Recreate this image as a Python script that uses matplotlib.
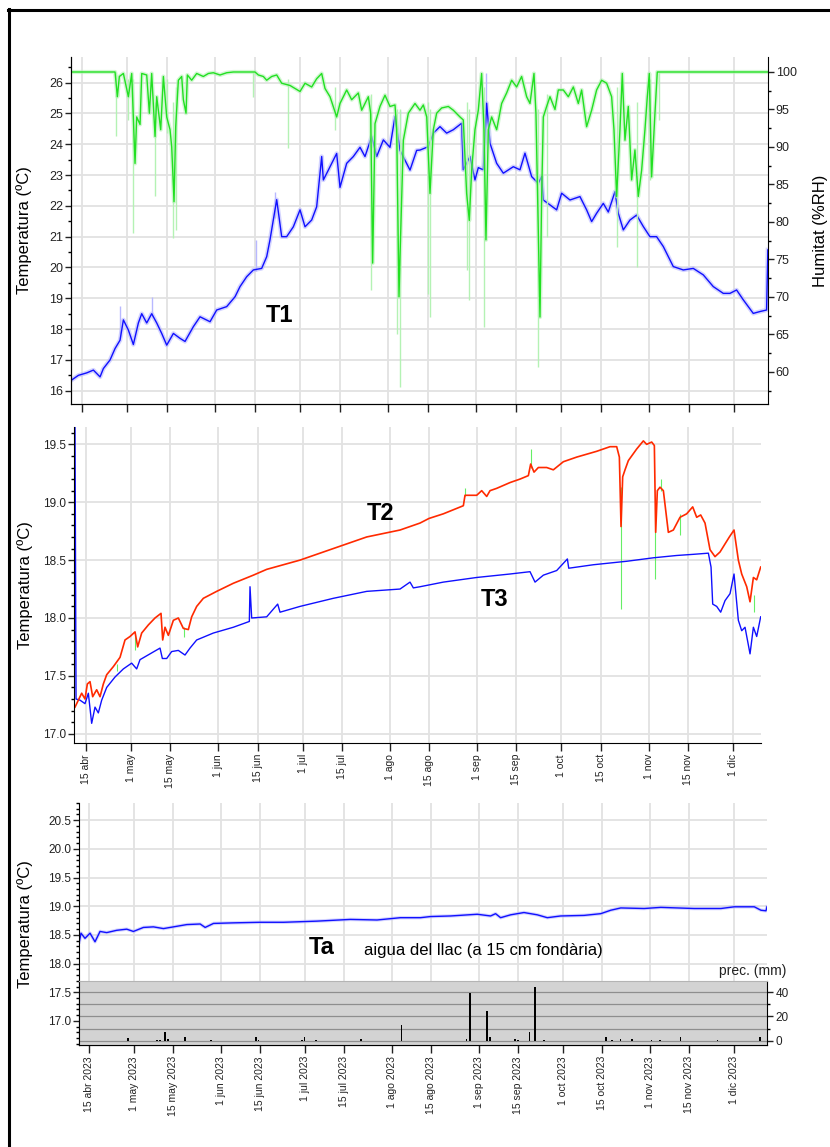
import numpy as np
import pandas as pd
import matplotlib
matplotlib.use('Agg')
import matplotlib.pyplot as plt
from matplotlib.lines import Line2D
from matplotlib.ticker import MultipleLocator, FormatStrFormatter

plt.rcParams['font.family'] = ['Liberation Sans', 'DejaVu Sans']

# --- data (x = days after 15 abr 2023) ---
t1_days = [-3.64, -1.29, 1.65, 4.0, 6.35, 7.52, 9.88, 11.64, 13.4, 14.58, 16.34, 18.1, 19.87,
           21.05, 22.81, 24.57, 26.34, 28.1, 29.87, 32.22, 34.57, 36.33, 39.27, 41.62, 45.15,
           47.5, 51.03, 53.97, 55.73, 58.08, 60.43, 63.37, 65.14, 66.31, 68.67, 70.43, 72.19,
           74.54, 76.9, 78.66, 81.01, 82.77, 84.54, 85.13, 86.89, 89.83, 91.0, 93.36, 95.71,
           98.06, 99.82, 102.18, 103.94, 106.29, 108.64, 110.41, 112.17, 115.7, 118.05,
           119.22, 122.16, 123.93, 126.28, 128.63, 130.98, 133.92, 134.5, 136.86, 138.62,
           139.8, 141.56, 142.74, 143.92, 146.27, 148.62, 152.15, 154.5, 156.26, 158.61,
           160.97, 162.14, 162.73, 167.43, 169.2, 172.13, 175.66, 178.01, 179.78, 181.54,
           183.89, 185.66, 188.01, 189.18, 190.95, 193.3, 195.65, 198.0, 200.35, 202.7,
           205.06, 208.58, 212.11, 215.64, 219.17, 222.69, 226.22, 228.57, 230.92, 233.28,
           236.8, 239.15, 241.5, 241.95]
t1_vals = [16.35, 16.5, 16.58, 16.67, 16.45, 16.72, 17.0, 17.37, 17.64, 18.3, 17.97, 17.5, 18.2,
           18.5, 18.2, 18.5, 18.2, 17.86, 17.48, 17.86, 17.7, 17.6, 18.08, 18.4, 18.24,
           18.62, 18.73, 19.05, 19.38, 19.7, 19.92, 19.97, 20.35, 20.9, 22.2, 21.0, 21.0,
           21.32, 21.87, 21.32, 21.54, 21.97, 23.6, 22.84, 23.16, 23.7, 22.6, 23.38, 23.6,
           23.9, 23.6, 24.25, 23.6, 24.14, 23.9, 24.9, 23.8, 23.16, 23.8,
           23.81, 23.92, 24.36, 24.57, 24.36, 24.47, 24.68, 23.17, 23.6, 22.84,
           23.24, 23.17, 25.33, 24.03, 23.38, 23.06, 23.27, 23.17, 23.71, 22.95,
           22.73, 22.95, 22.19, 21.87, 22.41, 22.19, 22.3, 21.87, 21.49, 21.76,
           22.08, 21.8, 22.46, 21.76, 21.22, 21.54, 21.7, 21.33, 21.0, 21.0,
           20.68, 20.03, 19.92, 19.97, 19.76, 19.38, 19.16, 19.16, 19.27, 18.95,
           18.51, 18.57, 18.62, 20.57]
t1_spike_days = [13.5, 24.6, 61.5, 68.0, 112.0, 142.5]
t1_spike_lo = [17.7, 18.4, 19.9, 21.6, 23.9, 24.0]
t1_spike_hi = [18.75, 19.05, 20.9, 22.45, 25.1, 26.3]

rh_days = [-3.64, 11.64, 12.46, 13.16, 14.58, 16.34, 17.52, 18.69, 19.28, 20.46, 21.05, 22.81,
           23.75, 24.57, 25.75, 26.34, 27.75, 28.69, 29.87, 31.04, 31.63, 32.45, 33.04, 33.98,
           35.15, 35.74, 36.68, 37.15, 38.68, 40.44, 42.79, 44.56, 46.32, 48.67, 51.03, 53.38,
           61.02, 62.2, 63.96, 65.14, 66.9, 68.67, 70.43, 73.37, 76.9, 78.66, 81.01, 82.77,
           84.54, 85.71, 87.48, 89.83, 91.0, 93.36, 95.12, 97.47, 98.65, 99.82, 101.0, 101.82,
           102.53, 103.35, 105.11, 106.88, 108.64, 110.41, 111.0, 111.82, 112.17, 113.35,
           115.11, 117.46, 119.22, 120.4, 121.6, 122.75, 123.93, 125.1, 126.87, 129.22,
           130.98, 133.33, 134.5, 135.68, 136.62, 137.45, 138.62, 139.8, 140.97, 141.8, 142.5,
           143.33, 144.5, 146.27, 148.03, 149.79, 151.56, 153.32, 155.08, 156.85, 158.03,
           159.44, 160.14, 160.97, 161.56, 162.14, 162.73, 163.91, 165.08, 166.85, 168.02,
           169.78, 171.55, 173.32, 175.08, 176.25, 178.01, 179.78, 181.54, 183.31, 185.07,
           186.83, 187.66, 188.6, 189.77, 190.6, 191.54, 192.71, 193.89, 195.06, 196.24,
           197.42, 198.59, 199.42, 200.12, 200.94, 202.12, 202.94, 242.0]
rh_vals = [100, 100, 96.7, 99.4, 99.8, 96.7, 99.8, 87.8, 94.0, 93.0, 99.8, 99.6,
           94.5, 99.8, 91.4, 96.7, 92.3, 99.4, 94.0, 92.3, 90.0, 82.7, 92.7, 98.9,
           99.4, 96.3, 94.5, 99.6, 98.9, 99.8, 99.4, 99.8, 99.9, 99.6, 99.9, 100,
           100, 99.6, 99.4, 98.9, 99.4, 99.6, 98.5, 98.2, 97.4, 98.5, 98.0, 99.1,
           99.8, 97.8, 96.7, 94.0, 95.8, 97.6, 96.3, 97.2, 94.9, 95.8, 96.7, 94.5,
           74.5, 93.1, 95.4, 96.9, 95.4, 95.6, 92.3, 70.0, 75.3, 90.9,
           94.5, 95.8, 94.9, 95.6, 94.0, 83.8, 92.3, 94.5, 95.2, 95.4,
           94.9, 94.0, 93.6, 83.8, 80.2, 86.9, 92.3, 94.9, 99.8, 92.3, 77.6,
           92.3, 94.0, 92.3, 95.8, 97.2, 98.9, 98.0, 99.4, 96.7, 95.8,
           99.8, 94.4, 78.9, 67.3, 83.4, 94.0, 95.4, 96.7, 95.0, 97.6,
           97.6, 96.7, 98.0, 95.8, 97.6, 92.7, 94.9, 97.6, 98.9, 98.5,
           96.7, 92.3, 83.4, 92.3, 99.8, 90.9, 95.4, 85.6, 89.6, 83.4,
           86.9, 92.3, 96.7, 99.8, 86.0, 94.5, 100, 100]
rh_spike_days = [12.1, 16.3, 18.1, 25.75, 29.9, 32.2, 33.2, 60.4, 72.8, 89.2, 101.8, 111.0,
                 112.2, 122.2, 122.8, 135.7, 136.6, 141.8, 161.0, 164.1, 188.6, 195.9, 200.4,
                 203.6]
rh_spike_hi = [100, 99, 99, 96, 99, 96, 98, 100, 99, 98, 97, 95,
               95, 96, 95, 96, 95, 98, 95, 97, 98, 96, 99, 100]
rh_spike_lo = [91.4, 93.6, 78.5, 83.4, 91.8, 77.8, 78.9, 96.7, 89.8, 92.3, 70.9, 65.1,
               58.0, 70.4, 67.3, 73.6, 69.6, 66.0, 60.7, 78.0, 76.7, 74.0, 85.6,
               93.6]

t2_days = [-3.91, -2.73, -1.54, -0.36, 0.47, 1.42, 2.37, 3.79, 4.98, 6.16, 7.35, 9.72, 12.09,
           13.86, 15.64, 17.42, 18.37, 19.79, 22.16, 24.53, 26.66, 27.26, 28.08, 29.27, 31.05,
           32.82, 34.6, 36.38, 37.56, 39.34, 41.71, 46.45, 52.37, 59.48, 64.22, 76.07, 87.92,
           99.78, 111.63, 118.73, 121.93, 127.03, 134.14, 134.73, 138.88, 140.66, 142.44,
           143.62, 145.99, 150.73, 154.28, 157.25, 158.07, 159.26, 160.8, 163.76, 166.13,
           169.69, 174.43, 181.54, 186.28, 188.65, 189.6, 190.19, 190.78, 191.61, 192.8,
           195.76, 198.13, 199.31, 201.09, 202.04, 202.51, 203.1, 204.05, 205.24, 207.01,
           208.79, 211.16, 213.53, 215.67, 217.09, 218.51, 220.05, 221.83, 223.6, 225.38,
           227.16, 228.7, 230.36, 231.9, 233.09, 234.87, 236.05, 237.24, 238.42, 239.84]
t2_vals = [17.23, 17.29, 17.35, 17.3, 17.43, 17.45, 17.32, 17.38, 17.32, 17.43, 17.51, 17.58, 17.66,
           17.81, 17.84, 17.88, 17.75, 17.87, 17.94, 18.0, 18.04, 17.81, 17.92, 17.85, 17.98,
           18.0, 17.91, 17.9, 18.01, 18.1, 18.17, 18.23, 18.3, 18.37, 18.42, 18.5, 18.6,
           18.7, 18.76, 18.82, 18.86, 18.9, 18.97, 19.06, 19.06, 19.1, 19.05,
           19.1, 19.12, 19.17, 19.2, 19.23, 19.33, 19.26, 19.3, 19.3, 19.28,
           19.35, 19.39, 19.44, 19.48, 19.48, 19.39, 18.79, 19.22, 19.28, 19.36,
           19.46, 19.53, 19.5, 19.52, 19.49, 18.74, 19.1, 19.13, 19.1, 18.74,
           18.76, 18.87, 18.9, 18.96, 18.87, 18.89, 18.82, 18.59, 18.53, 18.57,
           18.64, 18.7, 18.76, 18.5, 18.38, 18.27, 18.14, 18.35, 18.33, 18.44]

t3_days = [-3.91, -3.55, -2.13, -0.36, 0.83, 2.01, 3.2, 4.38, 5.57, 7.35, 10.31, 13.27, 16.23,
           18.01, 19.2, 22.75, 26.31, 27.14, 28.68, 30.45, 32.82, 35.19, 36.97, 39.34, 45.27,
           52.37, 58.06, 58.3, 58.89, 64.22, 68.14, 68.97, 76.07, 87.92, 99.78, 111.63, 115.18,
           116.36, 118.73, 127.03, 138.88, 150.73, 157.84, 159.62, 162.58, 167.32, 171.12,
           171.6, 180.36, 192.21, 201.69, 209.98, 215.91, 221.24, 222.19, 222.78, 224.2,
           225.62, 227.16, 228.94, 230.36, 231.9, 233.09, 234.27, 236.05, 237.24, 238.42,
           239.84]
t3_vals = [19.65, 17.3, 17.29, 17.26, 17.35, 17.09, 17.23, 17.18, 17.29, 17.4, 17.49, 17.56, 17.61,
           17.56, 17.64, 17.69, 17.74, 17.65, 17.65, 17.71, 17.72, 17.68, 17.74, 17.81, 17.87,
           17.92, 17.97, 18.27, 18.0, 18.01, 18.12, 18.05, 18.1, 18.17, 18.23, 18.25, 18.31,
           18.26, 18.27, 18.31, 18.35, 18.38, 18.4, 18.31, 18.37, 18.41, 18.51,
           18.43, 18.46, 18.49, 18.52, 18.54, 18.55, 18.56, 18.44, 18.12, 18.1,
           18.05, 18.15, 18.21, 18.38, 17.98, 17.89, 17.92, 17.69, 17.92, 17.84,
           18.01]

mid_spike_days = [11.0, 17.4, 34.8, 134.7, 158.07, 190.1, 202.4, 204.3, 211.0, 237.3]
mid_spike_hi = [17.6, 17.86, 17.92, 19.12, 19.46, 19.13, 18.96, 19.2, 18.9, 18.2]
mid_spike_lo = [17.54, 17.72, 17.84, 19.05, 19.3, 18.08, 18.34, 19.1, 18.72, 18.05]

ta_days = [-3.45, -2.86, -1.43, 0.36, 2.14, 3.93, 6.31, 9.88, 13.45, 15.83, 19.4, 22.98, 26.55,
           30.12, 34.88, 39.64, 41.43, 44.4, 51.55, 61.07, 69.4, 81.31, 93.21, 102.74, 111.07,
           118.21, 121.79, 128.93, 138.45, 143.21, 145.0, 146.79, 150.36, 155.12, 159.88,
           163.45, 168.21, 176.55, 182.5, 186.07, 189.64, 197.98, 203.93, 215.83, 225.36,
           230.12, 237.26, 239.64, 241.43, 241.8]
ta_vals = [18.38, 18.53, 18.44, 18.53, 18.38, 18.56, 18.54, 18.58, 18.6, 18.56, 18.63, 18.64, 18.61,
           18.64, 18.68, 18.69, 18.63, 18.7, 18.71, 18.72, 18.72, 18.74, 18.77, 18.76, 18.8,
           18.8, 18.82, 18.83, 18.86, 18.83, 18.87, 18.8, 18.85, 18.89, 18.85,
           18.8, 18.83, 18.84, 18.87, 18.93, 18.97, 18.96, 18.98, 18.96, 18.96,
           18.99, 18.99, 18.93, 18.92, 18.99]

prec_days = [14.0, 24.3, 25.2, 27.0, 28.1, 34.3, 38.5, 43.5, 53.7, 59.5, 60.5, 76.0, 76.8, 81.0,
             97.1, 111.4, 134.6, 135.8, 141.9, 142.9, 151.9, 153.0, 157.1, 159.0, 162.3,
             184.5, 186.5, 189.5, 193.6, 200.6, 203.7, 211.0, 224.2, 239.3]
prec_mm = [2.5, 1, 1, 7, 2, 3.5, 0.3, 0.5, 0.3, 3, 1, 1, 3.5, 0.5,
           1.5, 13, 1.5, 39, 24.5, 3, 1.5, 1, 7, 44, 0.5,
           3.5, 1, 1.5, 2, 0.5, 1, 3, 1, 3]

tick_dates = ['2023-04-15', '2023-05-01', '2023-05-15', '2023-06-01', '2023-06-15', '2023-07-01',
              '2023-07-15', '2023-08-01', '2023-08-15', '2023-09-01', '2023-09-15', '2023-10-01',
              '2023-10-15', '2023-11-01', '2023-11-15', '2023-12-01']
tick_labels = ['15 abr', '1 may', '15 may', '1 jun', '15 jun', '1 jul', '15 jul', '1 ago',
               '15 ago', '1 sep', '15 sep', '1 oct', '15 oct', '1 nov', '15 nov', '1 dic']

base = pd.Timestamp('2023-04-15')


def to_dates(days):
    return base + pd.to_timedelta(np.asarray(days, dtype=float), unit='D')


W, H = 830, 1147
fig = plt.figure(figsize=(W / 100, H / 100), dpi=100)
fig.set_facecolor('white')


def axes_px(l, t, r, b):
    return fig.add_axes([l / W, 1 - b / H, (r - l) / W, (b - t) / H])


grid_kw = dict(color='#e2e2e2', lw=1.3)
blue = '#1010ff'
green = '#22e022'
lgreen = '#b4f2b4'
ticks = pd.to_datetime(tick_dates)


def style_axes(ax, left_extra=True):
    ax.set_axisbelow(True)
    ax.grid(True, which='major', **grid_kw)
    ax.spines['top'].set_visible(False)
    ax.spines['right'].set_visible(False)
    ax.set_xticks(ticks)
    ax.tick_params(axis='x', direction='out', length=6, width=1, labelsize=7.5,
                   labelrotation=90, pad=2, colors='#222222')
    ax.tick_params(axis='y', which='major', direction='out', length=4.5, width=1, pad=1,
                   colors='#222222')
    ax.tick_params(axis='y', which='minor', direction='out', length=2.5, width=1)


# ---------- top panel: T1 + humidity ----------
ax1 = axes_px(71, 57, 768, 404)
style_axes(ax1)
ax1.set_xticklabels([])
ax1.set_xlim(to_dates([-3.9, 242.0]))
ax1.set_ylim(15.57, 26.83)
ax1.yaxis.set_major_locator(MultipleLocator(1))
ax1.yaxis.set_minor_locator(MultipleLocator(0.5))
ax1.tick_params(axis='y', labelsize=9)
ax1.plot(to_dates(t1_days), t1_vals, color='#b8b8ff', lw=3.2, alpha=0.6)
ax1.vlines(to_dates(t1_spike_days), t1_spike_lo, t1_spike_hi, color='#b8b8ff', lw=1)
ax1.plot(to_dates(t1_days), t1_vals, color=blue, lw=1)
ax1.set_ylabel('Temperatura (ºC)', fontsize=12)
ax1.yaxis.set_label_coords(-0.056, 0.5)

ax1r = ax1.twinx()
ax1r.set_ylim(55.7, 102)
ax1r.yaxis.set_major_locator(MultipleLocator(5))
ax1r.yaxis.set_minor_locator(MultipleLocator(2.5))
ax1r.set_yticks([60, 65, 70, 75, 80, 85, 90, 95, 100])
ax1r.spines['top'].set_visible(False)
ax1r.tick_params(axis='y', which='major', direction='out', length=4.5, width=1, pad=1,
                 labelsize=9, colors='#222222')
ax1r.tick_params(axis='y', which='minor', direction='out', length=2.5, width=1)
ax1r.vlines(to_dates(rh_spike_days), rh_spike_lo, rh_spike_hi, color=lgreen, lw=1)
ax1r.plot(to_dates(rh_days), rh_vals, color=lgreen, lw=3, alpha=0.6)
ax1r.plot(to_dates(rh_days), rh_vals, color=green, lw=1)
ax1r.set_ylabel('Humitat (%RH)', fontsize=12)
ax1r.yaxis.set_label_coords(1.064, 0.5)

# ---------- middle panel: T2, T3 ----------
ax2 = axes_px(74, 427, 761, 743)
style_axes(ax2)
ax2.set_xticklabels(tick_labels)
ax2.set_xlim(to_dates([-4.27, 239.95]))
ax2.set_ylim(16.92, 19.65)
ax2.yaxis.set_major_locator(MultipleLocator(0.5))
ax2.yaxis.set_minor_locator(MultipleLocator(0.1))
ax2.yaxis.set_major_formatter(FormatStrFormatter('%.1f'))
ax2.tick_params(axis='y', labelsize=8.5)
ax2.vlines(to_dates(mid_spike_days), mid_spike_lo, mid_spike_hi, color='#66ee66', lw=0.8)
ax2.plot(to_dates(t3_days), t3_vals, color=blue, lw=1)
ax2.plot(to_dates(t2_days), t2_vals, color='#ff2a00', lw=1.2)
ax2.set_ylabel('Temperatura (ºC)', fontsize=12)
ax2.yaxis.set_label_coords(-0.060, 0.5)

# ---------- bottom panel: Ta + precipitation ----------
ax3 = axes_px(79, 803, 767, 1045)
style_axes(ax3)
ax3.set_xticklabels([lab + ' 2023' for lab in tick_labels])
ax3.set_xlim(to_dates([-3.57, 241.8]))
ax3.set_ylim(16.58, 20.8)
ax3.yaxis.set_major_locator(MultipleLocator(0.5))
ax3.yaxis.set_minor_locator(MultipleLocator(0.1))
ax3.yaxis.set_major_formatter(FormatStrFormatter('%.1f'))
ax3.tick_params(axis='y', labelsize=8.5)
ax3.plot(to_dates(ta_days), ta_vals, color='#b8b8ff', lw=2.5, alpha=0.6)
ax3.plot(to_dates(ta_days), ta_vals, color=blue, lw=1)
ax3.set_ylabel('Temperatura (ºC)', fontsize=12)
ax3.yaxis.set_label_coords(-0.067, 0.5)

ax4 = axes_px(79, 981, 767, 1045)
ax4.set_zorder(ax3.get_zorder() + 1)
ax4.set_facecolor('#d3d3d3')
ax4.set_xlim(to_dates([-3.57, 241.8]))
ax4.set_ylim(-3.3, 49)
ax4.set_axisbelow(True)
ax4.yaxis.tick_right()
ax4.set_yticks([0, 20, 40])
ax4.yaxis.set_minor_locator(MultipleLocator(10))
ax4.grid(True, axis='y', which='both', color='#8e8e8e', lw=0.9)
ax4.tick_params(axis='x', bottom=False, labelbottom=False)
ax4.tick_params(axis='y', which='major', direction='out', length=4, width=1, pad=2,
                labelsize=8.5, colors='#222222')
ax4.tick_params(axis='y', which='minor', direction='out', length=2, width=1)
ax4.spines['top'].set_color('#b4b4b4')
ax4.bar(to_dates(prec_days), prec_mm, width=0.6, color='black')

# ---------- annotations ----------
fig.text(786 / W, 1 - 971 / H, 'prec. (mm)', fontsize=10, ha='right', va='center',
         color='#222222')
fig.text(280 / W, 1 - 316 / H, 'T1', fontsize=17, fontweight='bold', ha='center', va='center')
fig.text(381 / W, 1 - 514 / H, 'T2', fontsize=17, fontweight='bold', ha='center', va='center')
fig.text(495 / W, 1 - 599 / H, 'T3', fontsize=17, fontweight='bold', ha='center', va='center')
fig.text(322 / W, 1 - 947 / H, 'Ta', fontsize=17, fontweight='bold', ha='center', va='center')
fig.text(364 / W, 1 - 950 / H, 'aigua del llac (a 15 cm fondària)', fontsize=12,
         ha='left', va='center')

# outer frame (top and left edges)
fig.add_artist(Line2D([8 / W, 1], [1 - 9.5 / H] * 2, color='black', lw=2.2,
                      transform=fig.transFigure))
fig.add_artist(Line2D([9 / W] * 2, [0, 1 - 8.5 / H], color='black', lw=2.2,
                      transform=fig.transFigure))

fig.savefig('out.png', dpi=100)
